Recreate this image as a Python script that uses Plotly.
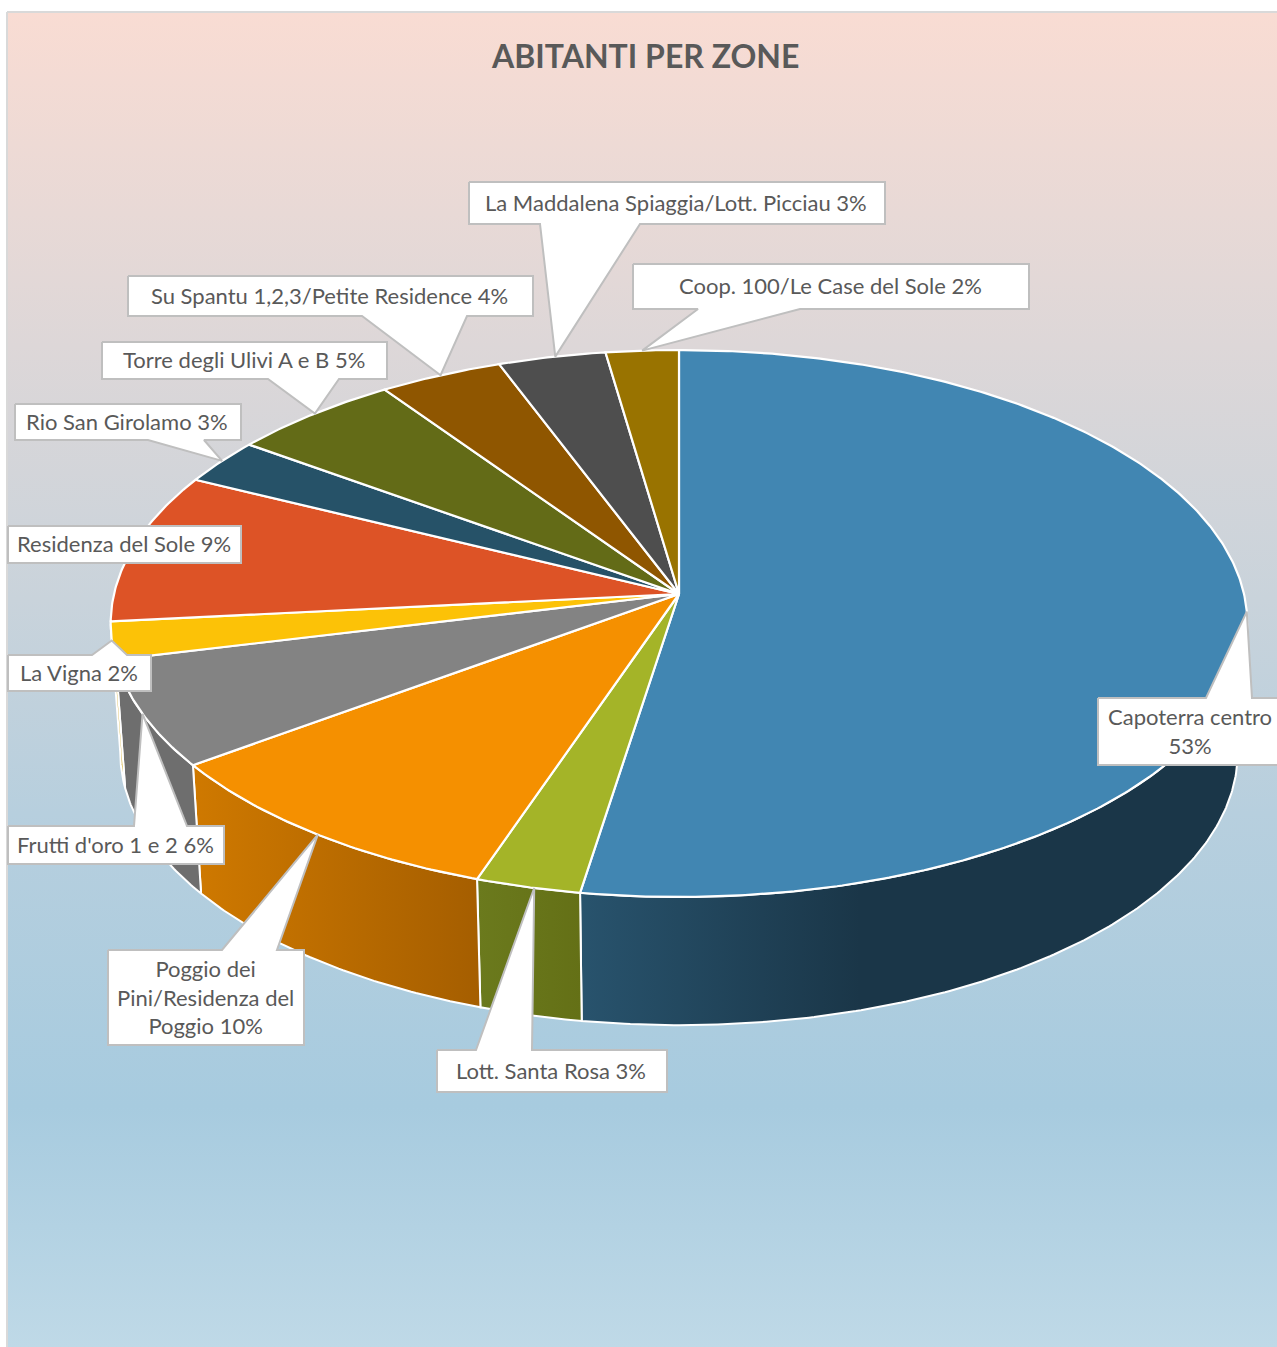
import math
import plotly.graph_objects as go

# ---- data ----
categories = ["Capoterra centro", "Lott. Santa Rosa", "Poggio dei Pini/Residenza del Poggio",
              "Frutti d'oro 1 e 2", "La Vigna", "Residenza del Sole", "Rio San Girolamo",
              "Torre degli Ulivi A e B", "Su Spantu 1,2,3/Petite Residence",
              "La Maddalena Spiaggia/Lott. Picciau", "Coop. 100/Le Case del Sole"]
shares = [52.5, 2.7, 9.7, 6.3, 2.2, 8.9, 2.7, 5.4, 3.9, 3.4, 2.3]
percent_labels = ["53%", "3%", "10%", "6%", "2%", "9%", "3%", "5%", "4%", "3%", "2%"]

# ---- styles ----
top_colors = ["#4186b2", "#a4b428", "#f59000", "#838383", "#fcc207", "#dd5326",
              "#265268", "#636b17", "#8f5600", "#4e4e4e", "#997300"]
wall_scales = [
    [[0, "#28536d"], [0.42, "#1a3648"], [1, "#1a3648"]],
    [[0, "#6b7a1d"], [1, "#647016"]],
    [[0, "#cf7900"], [1, "#a55e00"]],
    [[0, "#6e6e6e"], [1, "#6e6e6e"]],
    [[0, "#c89a05"], [1, "#c89a05"]],
]
bg_scale = [[0, "#f9dcd3"], [0.25, "#ddd7d8"], [0.44, "#c9d3db"], [0.6, "#b7cfde"],
            [0.82, "#a7cbdf"], [1, "#bfd9e7"]]
W, H = 1277, 1347
TEXT = "#595959"
FONT = "Lato"
TXT_SIZE = 22

# ---- projection of the tilted disc ----
k = 0.1079
cx = 679
TOP = dict(A=565.0, B=270.3, cy=594)
BASE = dict(A=555.5, B=269.9, cy=722.6)
SIL = math.degrees(math.asin(k))  # silhouette offset from 90 / 270 degrees


def rim(t, p):
    a = math.radians(t)
    u, v = math.sin(a), math.cos(a)
    d = 1 + k * v
    return cx + p["A"] * u / d, p["cy"] - p["B"] * v / d


def arc(t0, t1, p):
    n = max(2, int(abs(t1 - t0) / 0.5) + 1)
    return [rim(t0 + (t1 - t0) * i / (n - 1), p) for i in range(n)]


total = sum(shares)
edges = [0.0]
for s in shares:
    edges.append(edges[-1] + s / total * 360)
mids = [(edges[i] + edges[i + 1]) / 2 for i in range(len(shares))]

fig = go.Figure()


def poly(pts, **kw):
    xs = [p[0] for p in pts] + [pts[0][0]]
    ys = [p[1] for p in pts] + [pts[0][1]]
    fig.add_trace(go.Scatter(x=xs, y=ys, mode="lines", fill="toself", hoverinfo="skip",
                             showlegend=False, **kw))


# chart background with border
poly([(7, 12), (1290, 12), (1290, 1360), (7, 1360)],
     line=dict(color="#d9d9d9", width=2),
     fillgradient=dict(type="vertical", colorscale=bg_scale, start=12, stop=1347))

# walls, front half only
lo, hi = 90 + SIL, 270 - SIL
for i, scale in enumerate(wall_scales):
    t0, t1 = max(edges[i], lo), min(edges[i + 1], hi)
    pts = arc(t0, t1, TOP) + arc(t1, t0, BASE)
    poly(pts, line=dict(color="white", width=2),
         fillgradient=dict(type="horizontal", colorscale=scale))

# top faces
for i, col in enumerate(top_colors):
    pts = [(cx, TOP["cy"])] + arc(edges[i], edges[i + 1], TOP)
    poly(pts, fillcolor=col, line=dict(color="white", width=2.2))

# label boxes: left, top, right, bottom, side of pointer, pointer base
boxes = [
    (1098, 698, 1290, 765, "top", 1206, 1252),
    (437, 1050, 667, 1092, "top", 476, 532),
    (108, 950, 304, 1045, "top", 222, 277),
    (8, 826, 224, 864, "top", 134, 187),
    (8, 655, 151, 691, "top", 92, 127),
    (8, 526, 241, 563, None, 0, 0),
    (15, 404, 241, 440, "bottom", 148, 204),
    (102, 342, 387, 379, "bottom", 268, 339),
    (128, 276, 533, 316, "bottom", 362, 467),
    (469, 182, 885, 224, "bottom", 540, 640),
    (633, 264, 1029, 309, "bottom", 698, 800),
]
# small angular nudge of each pointer tip from the slice's middle, degrees
tip_nudge = [-0.8, -0.6, -0.5, 0.0, 0.0, 0.0, 0.2, 0.3, 0.0, 0.4, 0.0]
texts = ["Capoterra centro<br>53%", "Lott. Santa Rosa 3%", "Poggio dei<br>Pini/Residenza del<br>Poggio 10%",
         "Frutti d'oro 1 e 2 6%", "La Vigna 2%", "Residenza del Sole 9%", "Rio San Girolamo 3%",
         "Torre degli Ulivi A e B 5%", "Su Spantu 1,2,3/Petite Residence 4%",
         "La Maddalena Spiaggia/Lott. Picciau 3%", "Coop. 100/Le Case del Sole 2%"]
text_x = [1190] + [None] * 10

ann = []
for i, (l, t, r, b, side, x1, x2) in enumerate(boxes):
    tip = rim(mids[i] + tip_nudge[i], TOP)
    if side == "top":
        pts = [(l, t), (x1, t), tip, (x2, t), (r, t), (r, b), (l, b)]
    elif side == "bottom":
        pts = [(l, t), (r, t), (r, b), (x2, b), tip, (x1, b), (l, b)]
    else:
        pts = [(l, t), (r, t), (r, b), (l, b)]
    poly(pts, fillcolor="white", line=dict(color="#bfbfbf", width=2))
    ann.append(dict(x=text_x[i] if text_x[i] else (l + r) / 2 - 1, y=(t + b) / 2 - 1, text=texts[i],
                    showarrow=False, xanchor="center", yanchor="middle", align="center",
                    font=dict(family=FONT, size=TXT_SIZE, color=TEXT)))

ann.append(dict(x=645, y=55.5, text="<b>ABITANTI PER ZONE</b>", showarrow=False,
                xanchor="center", yanchor="middle",
                font=dict(family=FONT, size=32, color=TEXT)))

fig.update_layout(
    width=W, height=H, margin=dict(l=0, r=0, t=0, b=0), autosize=False,
    paper_bgcolor="white", plot_bgcolor="rgba(0,0,0,0)", showlegend=False,
    xaxis=dict(range=[0, W], visible=False, fixedrange=True),
    yaxis=dict(range=[H, 0], visible=False, fixedrange=True),
    annotations=ann,
)
fig.write_html("out.html", config=dict(displayModeBar=False),
               post_script="document.body.style.margin='0';document.body.style.overflow='hidden';")
